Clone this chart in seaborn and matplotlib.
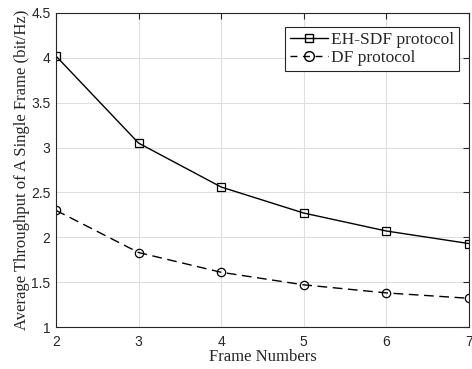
import matplotlib
matplotlib.use("Agg")
import matplotlib.pyplot as plt
import seaborn as sns
import pandas as pd

# datos
frames = [2, 3, 4, 5, 6, 7]
eh_sdf = [4.02, 3.05, 2.56, 2.27, 2.07, 1.93]
df_prot = [2.30, 1.83, 1.61, 1.47, 1.38, 1.32]
series_names = ["EH-SDF protocol", "DF protocol"]

sns.set_style("whitegrid")
plt.rcParams['font.family'] = ['Liberation Sans', 'DejaVu Sans']

data = pd.DataFrame({
    "Frame": frames * 2,
    "Throughput": eh_sdf + df_prot,
    "Protocol": [series_names[0]] * len(frames) + [series_names[1]] * len(frames),
})

fig = plt.figure(figsize=(4.72, 3.69), dpi=100)
ax = fig.add_axes([0.1186, 0.1138, 0.875, 0.851])

sns.lineplot(data=data, x="Frame", y="Throughput", hue="Protocol", style="Protocol",
             markers={series_names[0]: "s", series_names[1]: "o"},
             dashes={series_names[0]: "", series_names[1]: (7, 4)},
             palette={series_names[0]: "black", series_names[1]: "black"},
             linewidth=1.0, markersize=6, markerfacecolor="none",
             markeredgecolor="black", markeredgewidth=0.9, ax=ax, legend=False)

# lineas "proxy" para la leyenda estilo MATLAB
h1, = ax.plot([], [], color="black", lw=1.0, marker="s", mfc="none", ms=6)
h2, = ax.plot([], [], color="black", lw=1.0, ls=(0, (5, 4)), marker="o", mfc="none", ms=7)

ax.set_xlim(2, 7)
ax.set_ylim(1, 4.5)
ax.set_xticks(frames)
ax.set_yticks([1, 1.5, 2, 2.5, 3, 3.5, 4, 4.5])
ax.set_yticklabels(["1", "1.5", "2", "2.5", "3", "3.5", "4", "4.5"])
ax.tick_params(direction="in", length=4, labelsize=10, colors="#262626",
               top=True, right=True)
ax.tick_params(axis="x", pad=6)
ax.tick_params(axis="y", pad=4)
ax.grid(True, color="#dfdfdf", linewidth=0.8)
for sp in ax.spines.values():
    sp.set_color("#262626")
    sp.set_linewidth(0.8)

ax.set_xlabel("Frame Numbers", fontsize=12, family="Liberation Serif", labelpad=0)
ax.set_ylabel("Average Throughput of A Single Frame (bit/Hz)", fontsize=12,
              family="Liberation Serif", labelpad=1)

leg = ax.legend([h1, h2], series_names, loc="upper right", bbox_to_anchor=(0.975, 0.955),
                prop={"family": "Liberation Serif", "size": 12.5}, fancybox=False,
                framealpha=1, edgecolor="#262626", handlelength=2.2,
                borderpad=0.25, labelspacing=0.15, handletextpad=0.2, borderaxespad=0.0)
leg.get_frame().set_linewidth(0.8)

fig.savefig("out.png", dpi=100)
